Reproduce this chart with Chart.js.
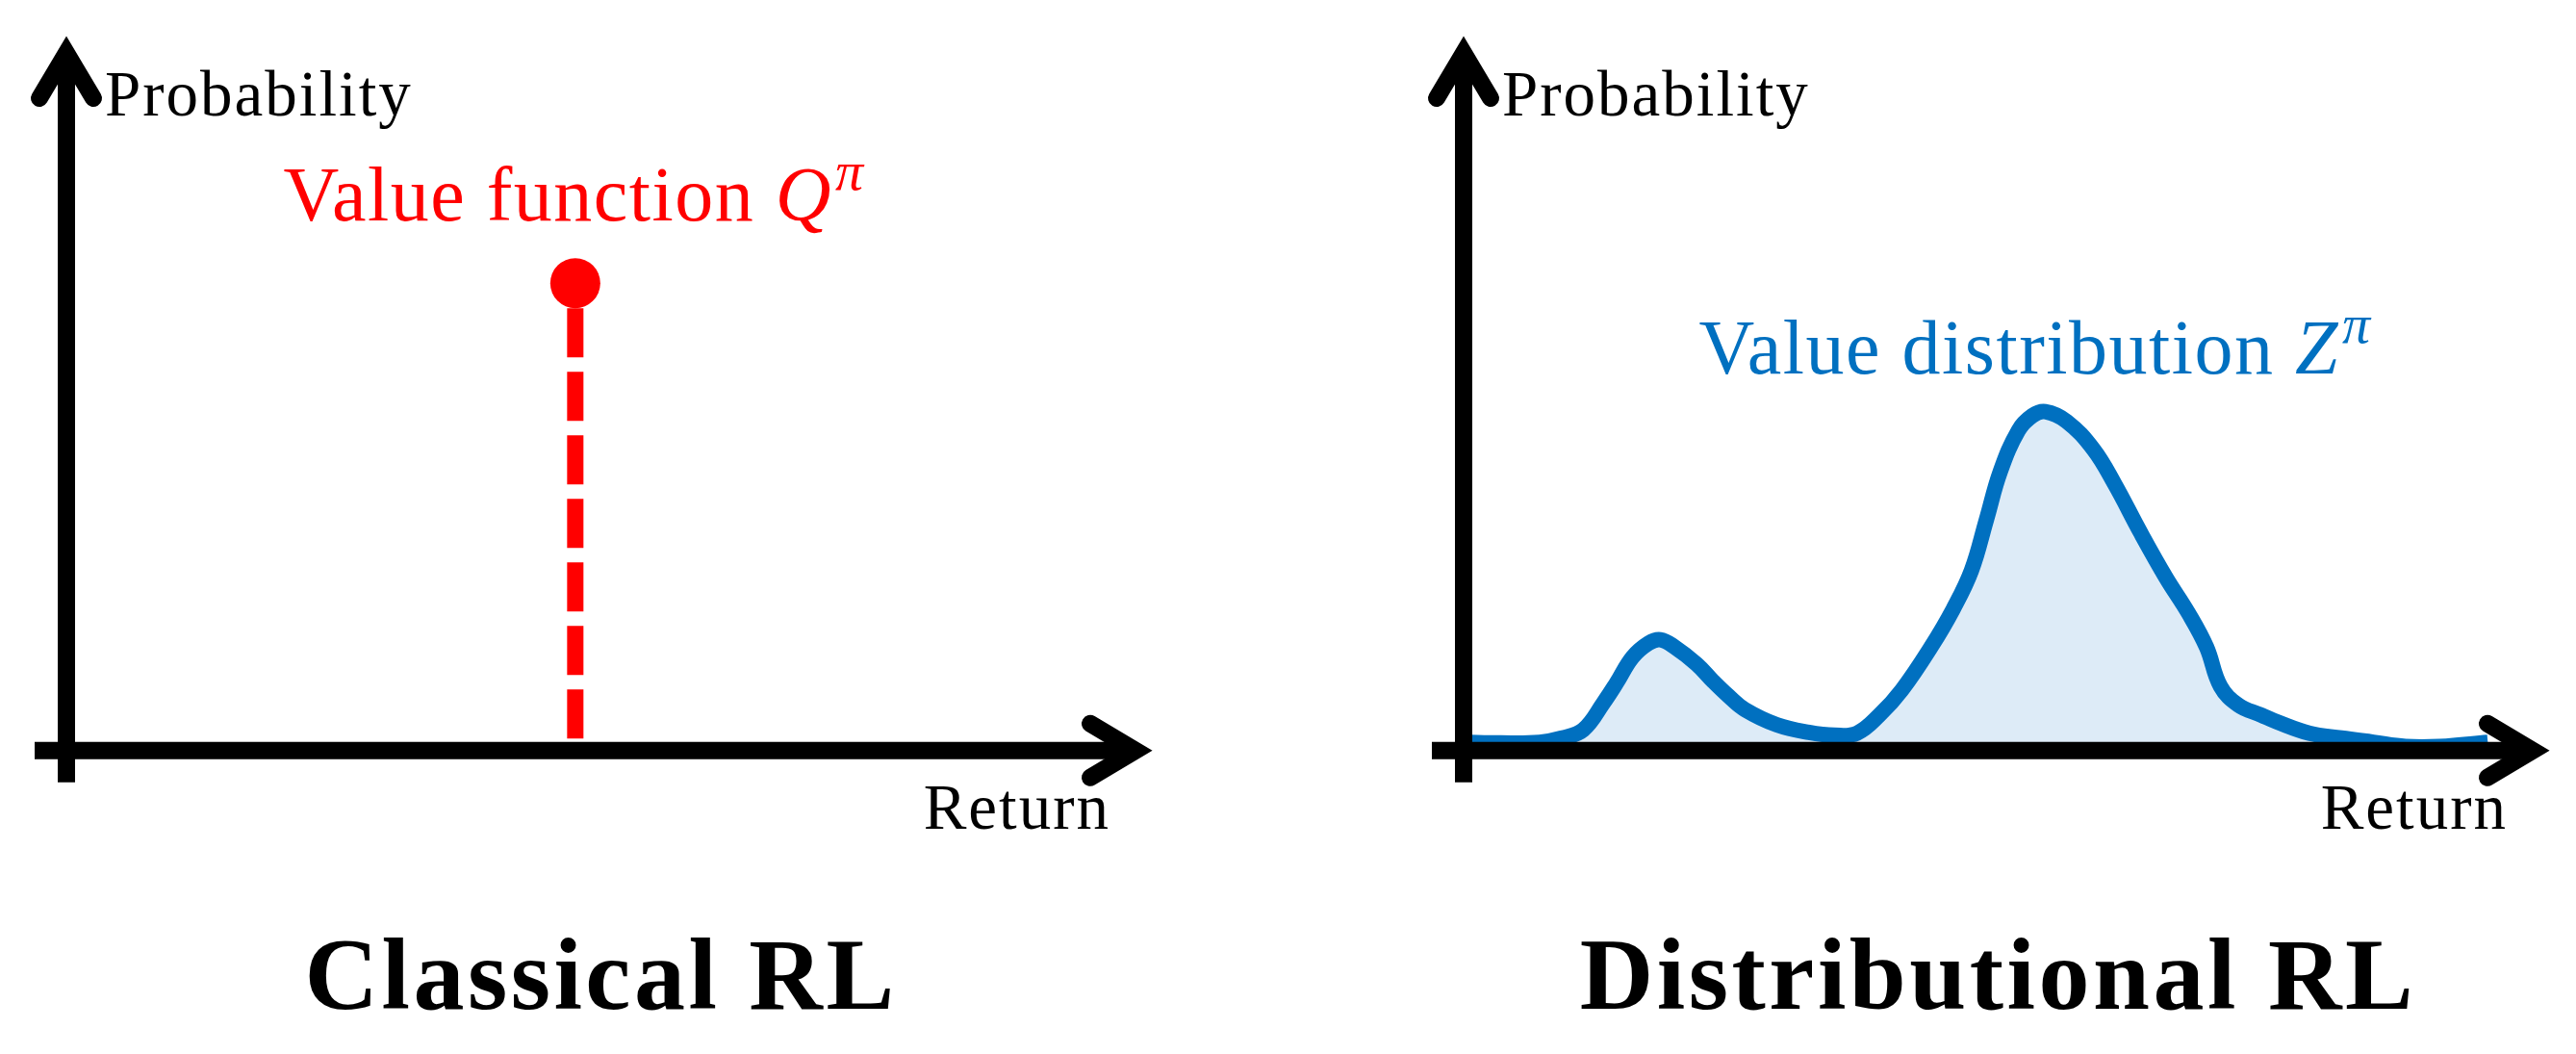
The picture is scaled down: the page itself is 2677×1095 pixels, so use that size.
<!DOCTYPE html>
<html>
<head>
<meta charset="utf-8">
<script src="https://cdn.jsdelivr.net/npm/chart.js@4.4.0/dist/chart.umd.min.js"></script>
<style>
  html, body { margin: 0; padding: 0; background: #fff; }
  .panel { position: absolute; top: 0; width: 1225px; height: 1095px; }
  #left { left: 0; }
  #right { left: 1452px; }
</style>
</head>
<body>
<div class="panel" id="left"><canvas id="classicalChart"></canvas></div>
<div class="panel" id="right"><canvas id="distributionalChart"></canvas></div>
<script>
const panelTitles = ['Classical RL', 'Distributional RL'];
const axisLabels = ['Probability', 'Return'];

// Classical RL: one expected return (the dot) dropped down to the axis
const qReturn = [4.76, 4.76];
const qProb = [0.67, 0];

// Distributional RL: the return density
const zReturns = [0.00, 0.35, 0.71, 0.92, 1.12, 1.31, 1.43, 1.58, 1.73, 1.84, 1.97, 2.18, 2.33, 2.48, 2.63, 2.93,
                  3.23, 3.47, 3.68, 3.89, 4.10, 4.37, 4.58, 4.75, 4.89, 5.02, 5.19, 5.32, 5.44, 5.64, 5.89,
                  6.09, 6.33, 6.57, 6.78, 6.95, 7.08, 7.25, 7.46, 7.61, 7.91, 8.21, 8.51, 8.81, 9.13, 9.58];
const zProbs = [0.012, 0.011, 0.012, 0.018, 0.030, 0.069, 0.097, 0.134, 0.154, 0.159, 0.149, 0.124, 0.100, 0.078, 0.059, 0.037,
                0.026, 0.022, 0.025, 0.051, 0.087, 0.148, 0.203, 0.258, 0.331, 0.400, 0.459, 0.480, 0.486, 0.472, 0.432,
                0.382, 0.313, 0.248, 0.197, 0.148, 0.092, 0.065, 0.051, 0.041, 0.025, 0.018, 0.012, 0.006, 0.006, 0.012];

const serif = "'Liberation Serif', 'Times New Roman', serif";

// draws the arrow axes, their names and the series label (with superscript pi)
const arrowAxes = {
    id: 'arrowAxes',
    beforeDraw(chart) {
        // the bottom title is drawn right after this; widen it a little
        chart.ctx.letterSpacing = '3.5px';
    },
    beforeDatasetsDraw(chart) {
        chart.ctx.letterSpacing = '0px';
    },
    afterDatasetsDraw(chart, args, opts) {
        const { ctx, chartArea: area, scales: { x, y } } = chart;
        const x0 = x.getPixelForValue(0);
        const y0 = y.getPixelForValue(0);
        ctx.save();
        ctx.strokeStyle = '#000';
        ctx.lineWidth = 18;
        ctx.beginPath();
        ctx.moveTo(x0 - 33, y0);
        ctx.lineTo(area.right - 4, y0);
        ctx.moveTo(x0, y0 + 33);
        ctx.lineTo(x0, area.top + 4);
        ctx.stroke();

        ctx.lineCap = 'round';
        ctx.lineJoin = 'miter';
        ctx.beginPath();
        ctx.moveTo(area.right - 47, y0 - 28);
        ctx.lineTo(area.right, y0);
        ctx.lineTo(area.right - 47, y0 + 28);
        ctx.moveTo(x0 - 28, area.top + 47);
        ctx.lineTo(x0, area.top);
        ctx.lineTo(x0 + 28, area.top + 47);
        ctx.stroke();

        ctx.fillStyle = '#000';
        ctx.font = '67px ' + serif;
        ctx.letterSpacing = '2px';
        ctx.textBaseline = 'alphabetic';
        ctx.textAlign = 'left';
        ctx.fillText(axisLabels[0], x0 + 40, area.top + 65);
        ctx.textAlign = 'right';
        ctx.fillText(axisLabels[1], area.right - 26, y0 + 81);

        const lab = opts.label;
        let px = x.getPixelForValue(lab.x);
        const py = y.getPixelForValue(lab.y);
        ctx.fillStyle = lab.color;
        ctx.textAlign = 'left';
        ctx.letterSpacing = '1.5px';
        ctx.font = '80px ' + serif;
        ctx.fillText(lab.text, px, py);
        px += ctx.measureText(lab.text).width;
        ctx.font = 'italic 80px ' + serif;
        ctx.fillText(lab.symbol, px, py);
        px += ctx.measureText(lab.symbol).width + 3;
        ctx.font = 'italic 58px ' + serif;
        ctx.fillText('\u03C0', px, py - 32);
        ctx.restore();
        ctx.letterSpacing = '0px';
    }
};

function makeChart(id, title, datasets, label) {
    return new Chart(document.getElementById(id), {
        type: 'line',
        data: { datasets: datasets },
        options: {
            responsive: true,
            maintainAspectRatio: false,
            animation: false,
            layout: { padding: { left: 69, right: 45, top: 55, bottom: 0 } },
            scales: {
                x: { type: 'linear', min: 0, max: 10, display: false },
                y: { min: 0, max: 1, display: false }
            },
            plugins: {
                legend: { display: false },
                tooltip: { enabled: false },
                title: {
                    display: true,
                    text: title,
                    position: 'bottom',
                    color: '#000',
                    font: { family: serif, size: 106, weight: 'bold', lineHeight: 1.2 },
                    padding: { top: 177, bottom: 11 }
                },
                arrowAxes: { label: label }
            }
        },
        plugins: [arrowAxes]
    });
}

makeChart('classicalChart', panelTitles[0], [{
    data: qReturn.map((r, i) => ({ x: r, y: qProb[i] })),
    borderColor: '#ff0000',
    borderWidth: 17,
    borderDash: [51, 15],
    borderDashOffset: 40,
    pointRadius: [26, 0],
    pointHoverRadius: 0,
    pointBackgroundColor: '#ff0000',
    pointBorderWidth: 0,
    fill: false
}], { x: 2.03, y: 0.76, text: 'Value function ', symbol: 'Q', color: '#ff0000' });

makeChart('distributionalChart', panelTitles[1], [{
    data: zReturns.map((r, i) => ({ x: r, y: zProbs[i] })),
    borderColor: '#0070c0',
    borderWidth: 16,
    backgroundColor: '#ddebf7',
    fill: 'origin',
    pointRadius: 0,
    pointHoverRadius: 0,
    tension: 0.4,
    borderJoinStyle: 'round'
}], { x: 2.20, y: 0.541, text: 'Value distribution ', symbol: 'Z', color: '#0070c0' });
</script>
</body>
</html>
